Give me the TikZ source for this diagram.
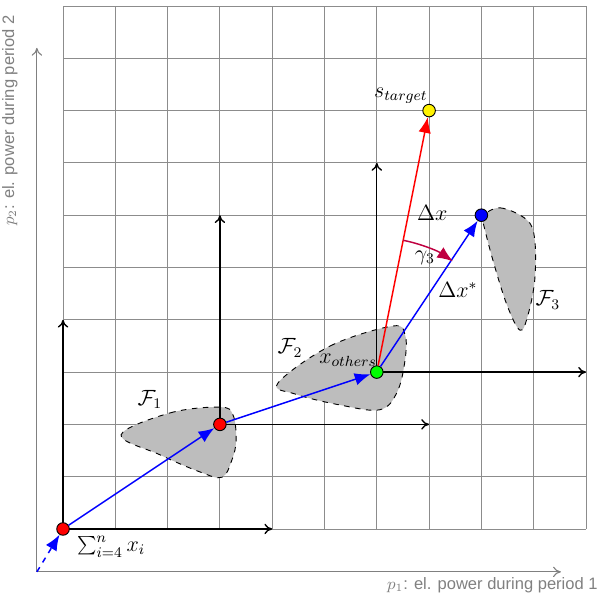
\documentclass[tikz,border=0pt]{standalone}
\usepackage{fontspec}
\setsansfont{Liberation Sans}
\usetikzlibrary{arrows.meta,calc}
\begin{document}
\begin{tikzpicture}[
  gridline/.style={gray!90, line width=0.5pt},
  localaxis/.style={black, line width=0.75pt, -{To[length=1.5mm,width=2mm]}},
  mainaxis/.style={gray, line width=0.6pt, -{To[length=1.5mm,width=2mm]}},
  blueflow/.style={blue, line width=0.8pt, -{Latex[length=3mm,width=2.4mm]}},
  redflow/.style={red, line width=0.8pt, -{Latex[length=3mm,width=2.4mm]}},
  pt/.style={circle, draw=black, line width=0.5pt, minimum size=2.4mm, inner sep=0pt},
  feas/.style={draw=black, dashed, fill=gray!52, line width=0.5pt},
  axlabel/.style={text=gray, font=\sffamily\small, inner sep=0pt},
  lab/.style={inner sep=0pt, font=\large}
]
\useasboundingbox (-1.205,-1.338) rectangle (10.249,10.115);
% grid
\draw[gridline] (0,0) grid (10,10);
% main axes
\coordinate (O) at (-0.5,-0.82);
\coordinate (XE) at (9.52,-0.82);
\coordinate (YE) at (-0.5,9.2);
\draw[mainaxis] (O) -- (XE);
\draw[mainaxis] (O) -- (YE);
\node[axlabel, anchor=north east] (xl) at (10.23,-0.93) {$p_1$: el. power during period 1};
\node[axlabel, rotate=90, anchor=south east] (yl) at (-0.86,9.83) {$p_2$: el. power during period 2};
% feasible sets
\draw[feas] plot[smooth cycle, tension=0.6] coordinates {(1.11,1.80) (2.05,2.22) (3.00,2.33) (3.25,2.18) (3.31,1.70) (3.23,1.32) (3.04,0.99) (2.62,1.09) (1.85,1.42)};
\draw[feas] plot[smooth cycle, tension=0.6] coordinates {(4.11,2.79) (5.11,3.50) (6.30,3.88) (6.54,3.71) (6.54,3.23) (6.39,2.62) (6.06,2.28) (5.30,2.37) (4.44,2.58)};
\draw[feas] plot[smooth cycle, tension=0.6] coordinates {(8.01,5.98) (8.36,6.14) (8.87,5.91) (9.02,5.53) (9.02,4.76) (8.89,4.09) (8.74,3.80) (8.49,4.28) (8.22,5.14) (8.03,5.87)};
% local axes
\coordinate (r1) at (0,0);
\coordinate (r2) at (3,2);
\coordinate (g) at (6,3);
\coordinate (r1x) at (4,0);
\coordinate (r1y) at (0,4);
\coordinate (r2x) at (7,2);
\coordinate (r2y) at (3,6);
\coordinate (gx) at (10,3);
\coordinate (gy) at (6,7);
\draw[localaxis] (r1) -- (r1x);
\draw[localaxis] (r1) -- (r1y);
\draw[localaxis] (r2) -- (r2x);
\draw[localaxis] (r2) -- (r2y);
\draw[localaxis] (g) -- (gx);
\draw[localaxis] (g) -- (gy);
% points
\node[pt, fill=red] (p1) at (r1) {};
\node[pt, fill=red] (p2) at (r2) {};
\node[pt, fill=green] (p3) at (g) {};
\node[pt, fill=yellow] (pt) at (7,8) {};
\node[pt, fill=blue] (pb) at (8,6) {};
% flows
\draw[blueflow, dashed] (O) -- (p1);
\draw[blueflow] (p1) -- (p2);
\draw[blueflow] (p2) -- (p3);
\draw[blueflow] (p3) -- (pb);
\draw[redflow] (p3) -- (pt);
% angle
\draw[purple, line width=0.8pt, -{Latex[length=3mm,width=2.4mm]}] ($(g)+(78.69:2.57)$) arc[start angle=78.69, end angle=55.5, radius=2.57];
% labels
\node[lab] (lsum) at (0.92,-0.34) {$\sum_{i=4}^{n} x_i$};
\node[lab] (lF1) at (1.66,2.47) {$\mathcal{F}_1$};
\node[lab] (lF2) at (4.34,3.46) {$\mathcal{F}_2$};
\node[lab] (lF3) at (9.27,4.38) {$\mathcal{F}_3$};
\node[lab] (lxo) at (5.45,3.23) {$x_{others}$};
\node[lab] (lst) at (6.46,8.28) {$s_{target}$};
\node[lab] (ldx) at (7.06,6.04) {$\Delta x$};
\node[lab] (ldxs) at (7.55,4.57) {$\Delta x^{*}$};
\node[lab] (lg) at (6.92,5.18) {$\gamma_3$};
\end{tikzpicture}
\end{document}
